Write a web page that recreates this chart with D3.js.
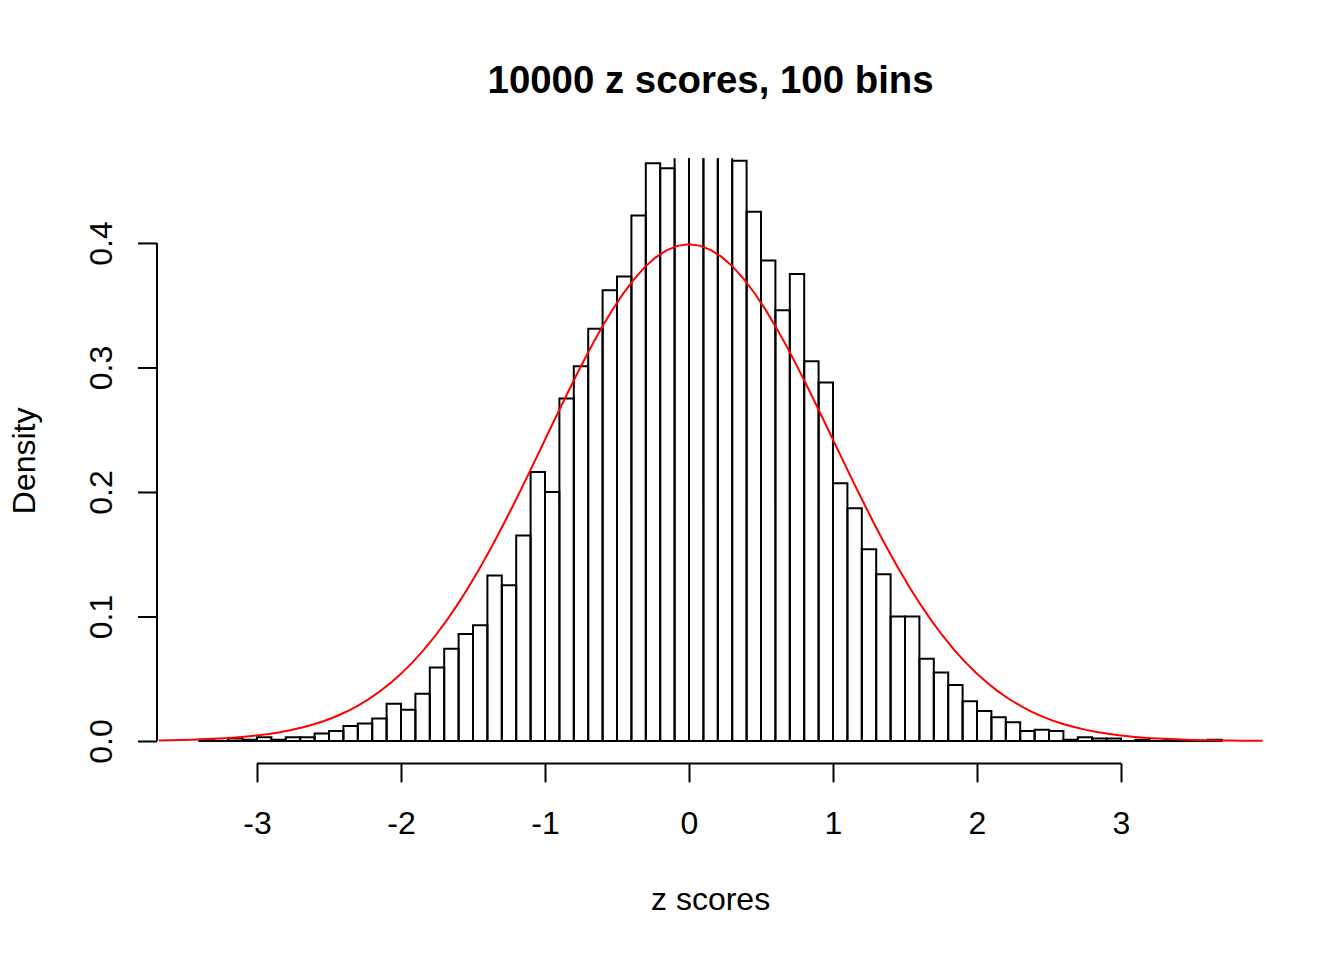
<!DOCTYPE html>
<html>
<head>
<meta charset="utf-8">
<script src="https://cdn.jsdelivr.net/npm/d3@7"></script>
<style>
  html, body { margin: 0; padding: 0; background: #ffffff; }
  svg { display: block; }
  text { font-family: "Liberation Sans", Arial, Helvetica, sans-serif; fill: #000; }
</style>
</head>
<body>
<svg id="chart" width="1344" height="960"></svg>
<script>
// ---- data ----
const breakStart = -3.4;
const binWidth = 0.1;
const densities = [
  0.001, 0.000, 0.002, 0.001, 0.003, 0.001, 0.003, 0.003, 0.006, 0.008,
  0.012, 0.014, 0.018, 0.030, 0.025, 0.038, 0.059, 0.074, 0.086, 0.093,
  0.133, 0.125, 0.165, 0.216, 0.200, 0.275, 0.301, 0.331, 0.362, 0.373,
  0.422, 0.464, 0.460, 0.480, 0.490, 0.480, 0.480, 0.466, 0.425, 0.386,
  0.346, 0.375, 0.305, 0.288, 0.207, 0.187, 0.154, 0.134, 0.100, 0.100,
  0.066, 0.055, 0.045, 0.032, 0.024, 0.019, 0.015, 0.008, 0.009, 0.008,
  0.001, 0.003, 0.002, 0.002, 0.000, 0.001, 0.000, 0.001, 0.000, 0.000,
  0.001
];
const xTicks = [-3, -2, -1, 0, 1, 2, 3];
const yTicks = [0.0, 0.1, 0.2, 0.3, 0.4];
const yTickLabels = ["0.0", "0.1", "0.2", "0.3", "0.4"];
const ylim = [0, 0.45];
const normMean = 0, normSd = 1;
const titleText = "10000 z scores, 100 bins";
const xLabel = "z scores";
const yLabel = "Density";

// ---- layout ----
const svg = d3.select("#chart");
const plotLeft = 158.5, plotRight = 1262.7, plotTop = 158.3, plotBottom = 763.4;

const bins = densities.map((d, i) => ({
  x0: breakStart + i * binWidth,
  x1: breakStart + (i + 1) * binWidth,
  d: d
}));
const xlim = [bins[0].x0, bins[bins.length - 1].x1];
const xr = (xlim[1] - xlim[0]) * 0.04;
const yr = (ylim[1] - ylim[0]) * 0.04;

const x = d3.scaleLinear().domain([xlim[0] - xr, xlim[1] + xr]).range([plotLeft, plotRight]);
const y = d3.scaleLinear().domain([ylim[0] - yr, ylim[1] + yr]).range([plotBottom, plotTop]);

svg.append("defs").append("clipPath").attr("id", "plotclip")
  .append("rect")
  .attr("x", plotLeft).attr("y", plotTop)
  .attr("width", plotRight - plotLeft).attr("height", plotBottom - plotTop);

const plot = svg.append("g").attr("clip-path", "url(#plotclip)");

// bars as closed paths so that empty bins still show as a baseline segment
plot.selectAll("path.bar").data(bins).enter().append("path")
  .attr("class", "bar")
  .attr("d", b => {
    const p = d3.path();
    p.moveTo(x(b.x0), y(0));
    p.lineTo(x(b.x0), y(b.d));
    p.lineTo(x(b.x1), y(b.d));
    p.lineTo(x(b.x1), y(0));
    p.closePath();
    return p.toString();
  })
  .attr("fill", "none")
  .attr("stroke", "#000")
  .attr("stroke-width", 2);

// normal density curve (as curve(dnorm(x), add=TRUE) with n = 101)
const dom = x.domain();
const curvePts = d3.range(101).map(i => {
  const xv = dom[0] + (dom[1] - dom[0]) * i / 100;
  const z = (xv - normMean) / normSd;
  return [xv, Math.exp(-0.5 * z * z) / (normSd * Math.sqrt(2 * Math.PI))];
});
plot.append("path")
  .datum(curvePts)
  .attr("d", d3.line().x(p => x(p[0])).y(p => y(p[1])))
  .attr("fill", "none")
  .attr("stroke", "#ff0000")
  .attr("stroke-width", 2);

// ---- axes ----
const xAxis = d3.axisBottom(x).tickValues(xTicks).tickSize(19).tickPadding(0)
  .tickFormat(d3.format("d"));
const gx = svg.append("g").attr("transform", `translate(0,${plotBottom})`).call(xAxis);
gx.select(".domain").remove();
gx.append("line")
  .attr("x1", x(xTicks[0])).attr("x2", x(xTicks[xTicks.length - 1]))
  .attr("y1", 0).attr("y2", 0).attr("stroke", "#000").attr("stroke-width", 2);
gx.selectAll(".tick line").attr("stroke", "#000").attr("stroke-width", 2);
gx.selectAll(".tick text")
  .attr("y", 71).attr("dy", null)
  .style("font-size", "32px")
  .style("font-family", '"Liberation Sans", Arial, Helvetica, sans-serif')
  .text(d => d < 0 ? "-" + Math.abs(d) : String(d));

const yAxis = d3.axisLeft(y).tickValues(yTicks).tickSize(19)
  .tickFormat((d, i) => yTickLabels[i]);
const gy = svg.append("g").attr("transform", `translate(${plotLeft - 1.5},0)`).call(yAxis);
gy.select(".domain").remove();
gy.append("line")
  .attr("x1", 0).attr("x2", 0)
  .attr("y1", y(yTicks[0])).attr("y2", y(yTicks[yTicks.length - 1]))
  .attr("stroke", "#000").attr("stroke-width", 2);
gy.selectAll(".tick line").attr("stroke", "#000").attr("stroke-width", 2);
gy.selectAll(".tick text")
  .attr("x", null).attr("dy", null)
  .attr("transform", "translate(-45,0) rotate(-90)")
  .attr("text-anchor", "middle")
  .style("font-size", "32px")
  .style("font-family", '"Liberation Sans", Arial, Helvetica, sans-serif');

// ---- titles ----
const cx = (plotLeft + plotRight) / 2;
const cy = (plotTop + plotBottom) / 2;
svg.append("text")
  .attr("x", cx).attr("y", 93)
  .attr("text-anchor", "middle")
  .style("font-size", "38.4px").style("font-weight", "bold")
  .text(titleText);
svg.append("text")
  .attr("x", cx).attr("y", 910)
  .attr("text-anchor", "middle")
  .style("font-size", "32px")
  .text(xLabel);
svg.append("text")
  .attr("transform", `translate(35,${cy}) rotate(-90)`)
  .attr("text-anchor", "middle")
  .style("font-size", "32px")
  .text(yLabel);
</script>
</body>
</html>
